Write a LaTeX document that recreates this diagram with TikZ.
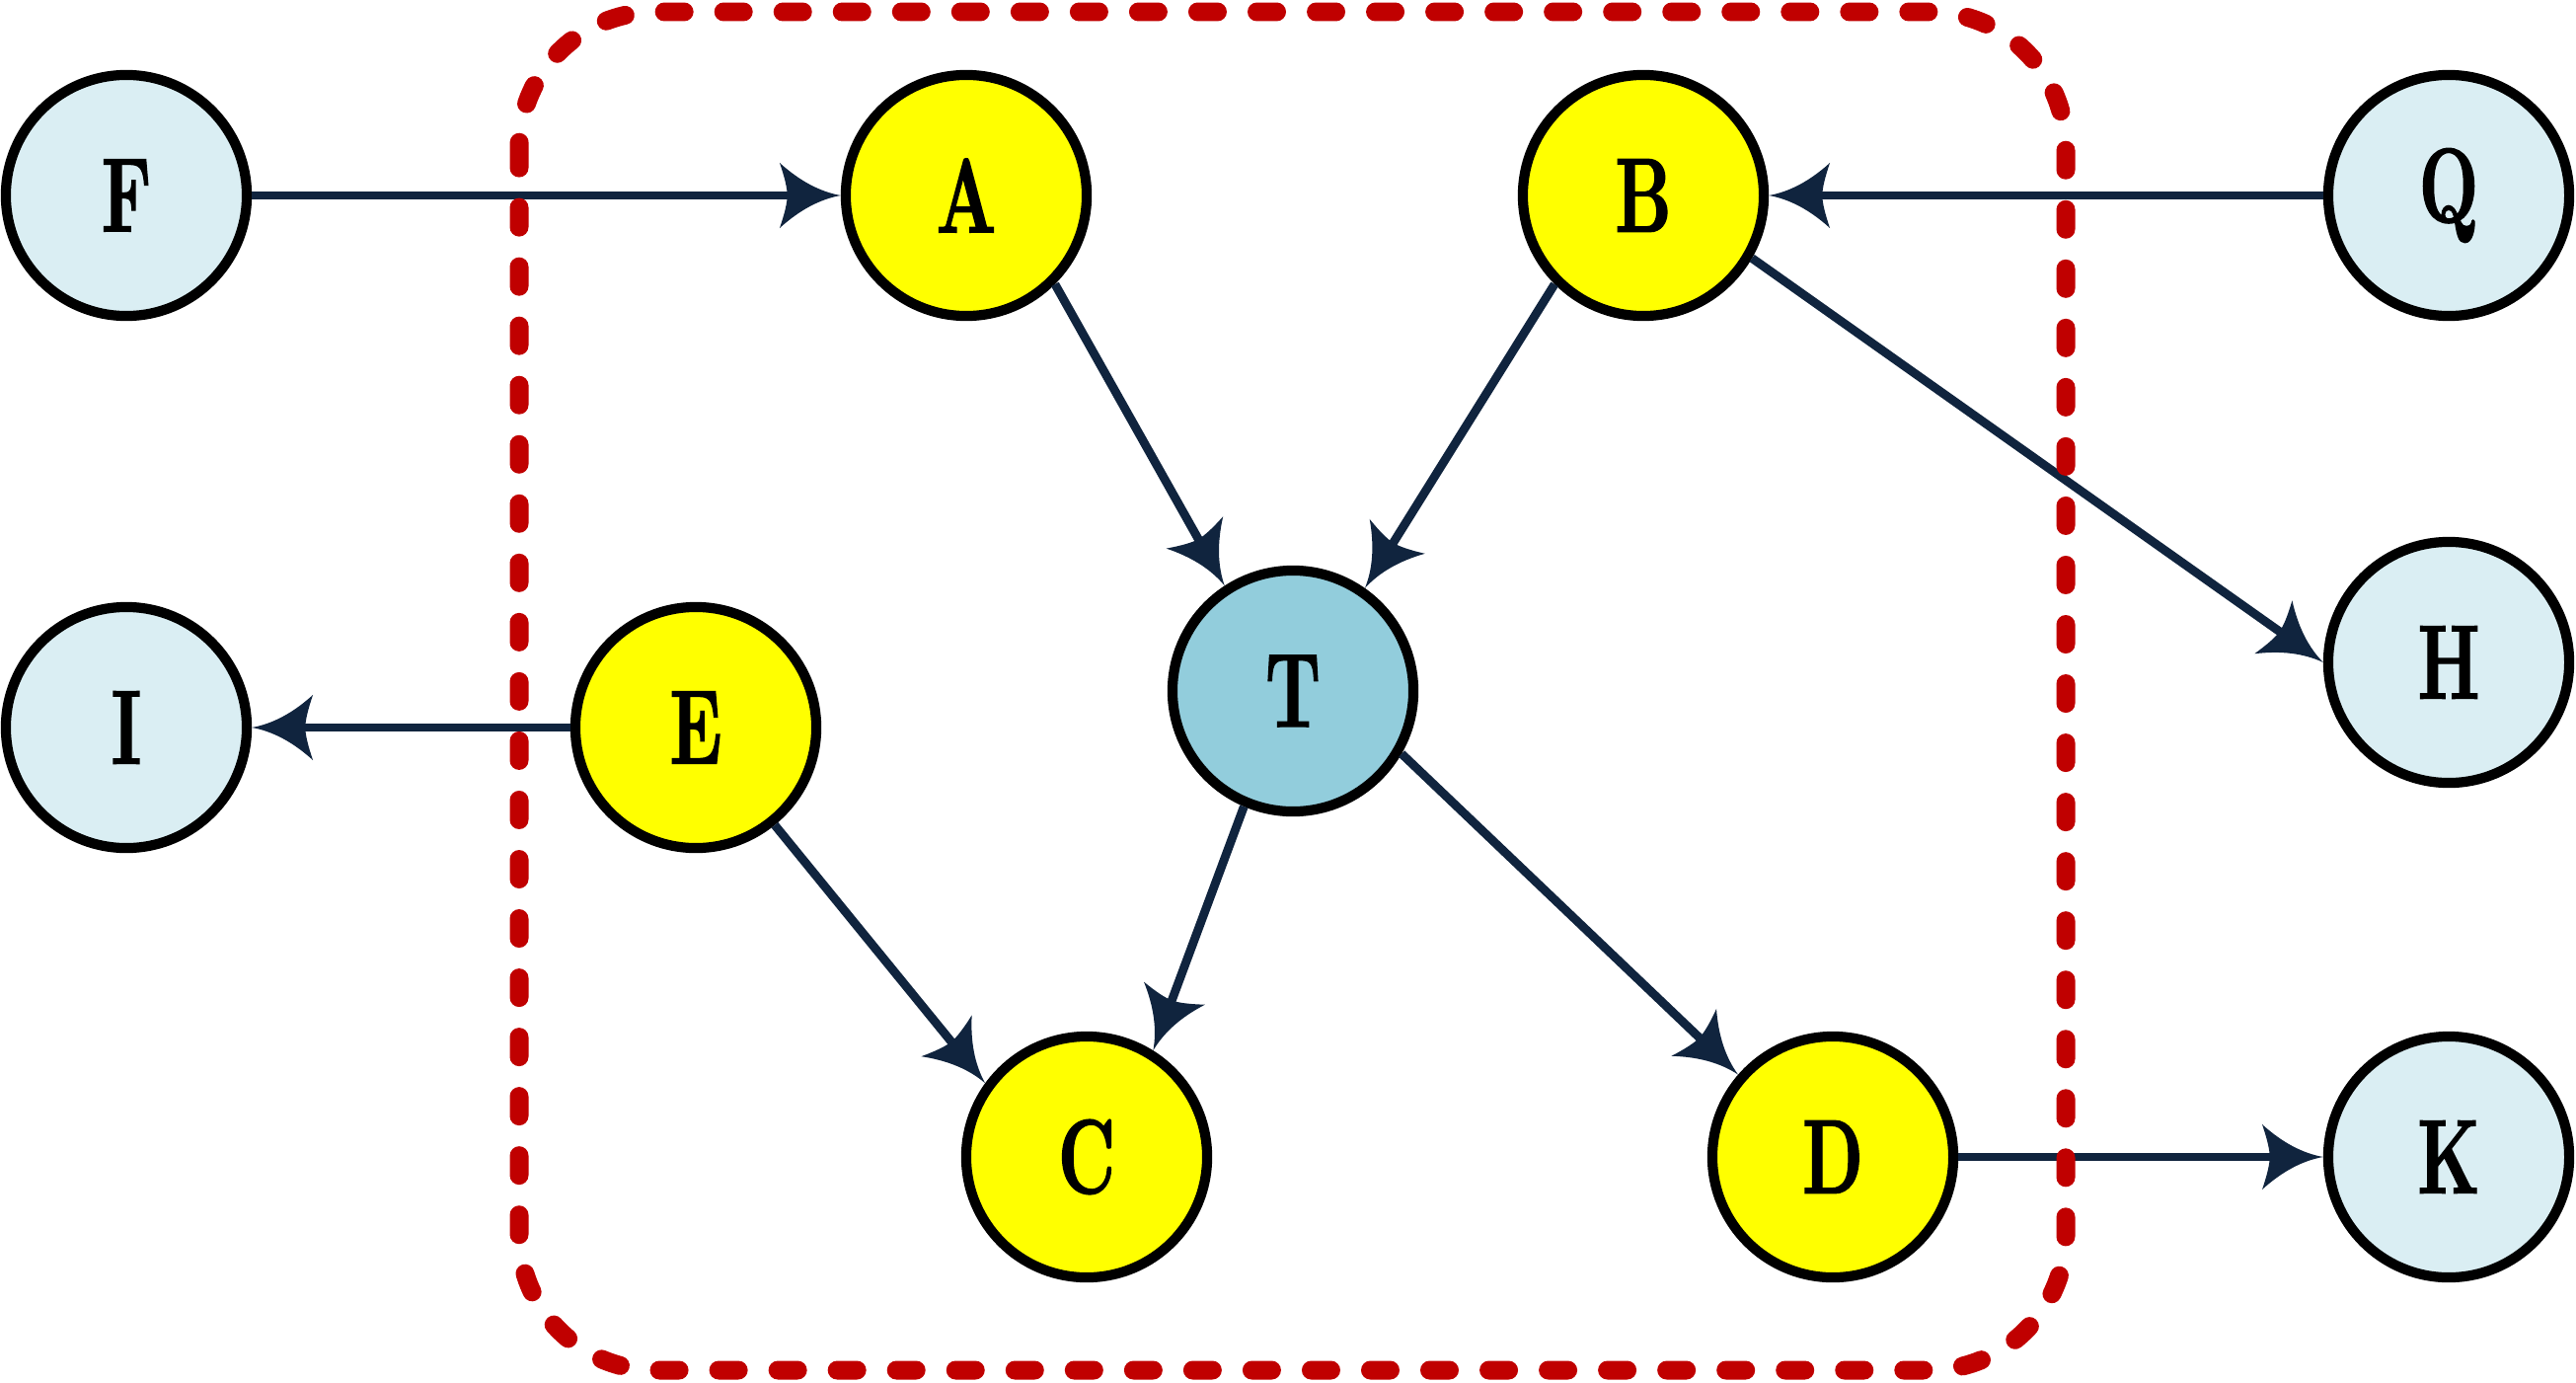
\documentclass[tikz,border=0pt]{standalone}
\usepackage{fontspec}
\newfontfamily\lab{lmroman10-bold.otf}[FakeStretch=0.65, FakeBold=1.2]
\usetikzlibrary{arrows.meta}
\definecolor{edgec}{HTML}{10243E}
\definecolor{dashred}{HTML}{C00000}
\definecolor{lightb}{HTML}{DAEEF3}
\definecolor{midb}{HTML}{92CDDC}
\definecolor{yel}{HTML}{FFFF00}
\pgfdeclarearrow{
  name = Cusp,
  setup code = {
    \pgfarrowssettipend{0pt}
    \pgfarrowssetlineend{-14pt}
    \pgfarrowssetbackend{-17.6pt}
    \pgfarrowshullpoint{0pt}{0pt}
    \pgfarrowshullpoint{-17.6pt}{9.4pt}
    \pgfarrowshullpoint{-17.6pt}{-9.4pt}
  },
  drawing code = {
    \pgfpathmoveto{\pgfpoint{0pt}{0pt}}
    \pgfpathquadraticcurveto{\pgfpoint{-9pt}{1.6pt}}{\pgfpoint{-17.6pt}{9.4pt}}
    \pgfpathquadraticcurveto{\pgfpoint{-15.4pt}{3pt}}{\pgfpoint{-15.4pt}{0pt}}
    \pgfpathquadraticcurveto{\pgfpoint{-15.4pt}{-3pt}}{\pgfpoint{-17.6pt}{-9.4pt}}
    \pgfpathquadraticcurveto{\pgfpoint{-9pt}{-1.6pt}}{\pgfpoint{0pt}{0pt}}
    \pgfpathclose
    \pgfusepathqfill
  }
}
\tikzset{
  vnode/.style={circle, draw=black, line width=2.9pt, minimum size=2.44cm, inner sep=0pt,
    font=\lab\fontsize{30.5}{36}\selectfont},
  yelnode/.style={vnode, fill=yel},
  outnode/.style={vnode, fill=lightb},
  centnode/.style={vnode, fill=midb},
  edge/.style={draw=edgec, fill=edgec, line width=2.5pt, -{Cusp}},
  groupbox/.style={draw=dashred, line width=5.4pt, line cap=round,
    dash pattern=on 0.2cm off 0.4cm, rounded corners=1.38cm}
}
\begin{document}
\begin{tikzpicture}[x=0.01cm, y=-0.01cm]
\useasboundingbox (0,0) rectangle (2610,1400);
% nodes
\node[outnode]  (F) at (128,198)  {F};
\node[yelnode]  (A) at (979,198)  {A};
\node[yelnode]  (B) at (1665,198) {B};
\node[outnode]  (Q) at (2481,198) {Q};
\node[centnode] (T) at (1310,700) {T};
\node[outnode]  (I) at (128,737)  {I};
\node[yelnode]  (E) at (705,737)  {E};
\node[outnode]  (H) at (2481,671) {H};
\node[yelnode]  (C) at (1101,1172) {C};
\node[yelnode]  (D) at (1857,1172) {D};
\node[outnode]  (K) at (2481,1172) {K};
% edges
\draw[edge] (F.east) -- (A.west);
\draw[edge] (Q.west) -- (B.east);
\draw[edge] (B.-30) -- (H.west);
\draw[edge] (A.-45) -- (T.123);
\draw[edge] (B.225) -- (T.55);
\draw[edge] (E.west) -- (I.east);
\draw[edge] (E.-51) -- (C.144);
\draw[edge] (T.247) -- (C.58);
\draw[edge] (T.-30) -- (D.139);
\draw[edge] (D.east) -- (K.west);
% group
\draw[groupbox] (526,12) rectangle (2093,1388);
\end{tikzpicture}
\end{document}
